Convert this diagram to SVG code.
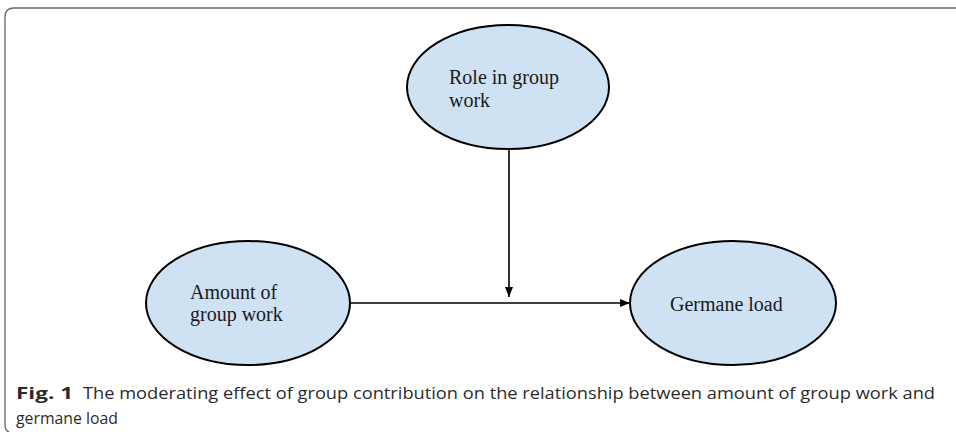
<svg xmlns="http://www.w3.org/2000/svg" width="956" height="432" viewBox="0 0 956 432">
<style>
.node ellipse{fill:#cfe2f3;stroke:#000;stroke-width:2}
.lbl{font-family:"Liberation Serif","Times New Roman",serif;font-size:20px;fill:#1a1a1a}
.cap{font-family:"Open Sans","Noto Sans",sans-serif;font-size:16px;fill:#2b2b2b}
.edge{stroke:#000;stroke-width:1.6;fill:none}
</style>
<defs>
<marker id="ah" viewBox="0 0 10 8" refX="10" refY="4" markerWidth="10" markerHeight="8" markerUnits="userSpaceOnUse" orient="auto">
<path d="M0,0 L10,4 L0,8 Z" fill="#000"/>
</marker>
</defs>
<rect width="956" height="432" fill="#fff"/>
<path d="M956,8 H14 Q5,8 5,17 V424 Q5,431 9,432" fill="none" stroke="#666" stroke-width="1.3"/>
<g id="connectors">
<line class="edge" x1="509" y1="149" x2="509" y2="297" marker-end="url(#ah)"/>
<line class="edge" x1="350" y1="303" x2="630" y2="303" marker-end="url(#ah)"/>
</g>
<g id="role" class="node">
<ellipse cx="508" cy="87" rx="101" ry="62"/>
<text class="lbl" x="449" y="84">Role in group</text>
<text class="lbl" x="449" y="107">work</text>
</g>
<g id="amount" class="node">
<ellipse cx="248" cy="303" rx="102" ry="62"/>
<text class="lbl" x="190" y="299">Amount of</text>
<text class="lbl" x="190" y="321">group work</text>
</g>
<g id="germane" class="node">
<ellipse cx="733" cy="303" rx="103" ry="62"/>
<text class="lbl" x="670" y="311">Germane load</text>
</g>
<g id="caption">
<text class="cap" x="16" y="399" font-weight="bold" textLength="57" lengthAdjust="spacingAndGlyphs">Fig. 1</text>
<text class="cap" x="83" y="399" textLength="852" lengthAdjust="spacingAndGlyphs">The moderating effect of group contribution on the relationship between amount of group work and</text>
<text class="cap" x="16" y="424" textLength="102" lengthAdjust="spacingAndGlyphs">germane load</text>
</g>
</svg>
